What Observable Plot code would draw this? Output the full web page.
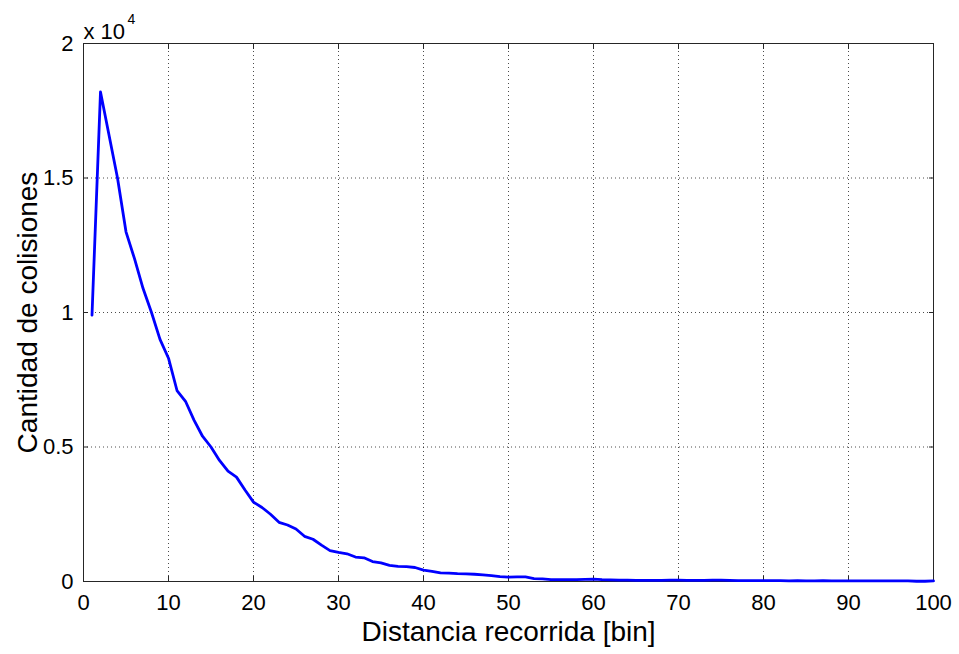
<!DOCTYPE html>
<html><head><meta charset="utf-8">
<script src="https://cdn.jsdelivr.net/npm/d3@7"></script>
<script src="https://cdn.jsdelivr.net/npm/@observablehq/plot@0.6"></script>
<style>body{margin:0;background:#fff}</style>
</head><body><div id="chart"></div>
<script>
const bins = d3.range(1, 101);
const counts = [
  9900, 18200, 16600, 15000, 13000, 12000, 10900, 10000, 9000, 8300,
  7100, 6700, 6000, 5400, 5000, 4500, 4100, 3880, 3400, 2950,
  2750, 2500, 2200, 2100, 1950, 1680, 1570, 1350, 1150, 1080,
  1030, 910, 880, 740, 690, 600, 560, 550, 520, 420,
  380, 320, 310, 290, 280, 270, 250, 220, 180, 160,
  170, 170, 110, 100, 70, 70, 70, 70, 80, 90,
  70, 60, 50, 50, 40, 40, 40, 40, 50, 50,
  40, 40, 40, 50, 50, 40, 30, 30, 30, 30,
  30, 30, 20, 30, 20, 20, 30, 20, 20, 20,
  20, 20, 20, 20, 20, 20, 20, 10, 10, 20
];
const xTicks = [0, 10, 20, 30, 40, 50, 60, 70, 80, 90, 100];
const yTicks = [0, 5000, 10000, 15000, 20000];
const yTickLabels = ["0", "0.5", "1", "1.5", "2"];
const xLabel = "Distancia recorrida [bin]";
const yLabel = "Cantidad de colisiones";
const expBase = "x 10";
const expPower = "4";

const data = bins.map((b, i) => ({bin: b, count: counts[i]}));
const axisColor = "#262626";

const chart = Plot.plot({
  width: 959,
  height: 654,
  marginTop: 43,
  marginRight: 26,
  marginBottom: 73,
  marginLeft: 83,
  style: {fontFamily: "Liberation Sans, Arial, sans-serif", background: "#fff", color: "#000"},
  x: {domain: [0, 100], ticks: xTicks},
  y: {domain: [0, 20000], ticks: yTicks},
  marks: [
    Plot.gridX(xTicks.slice(1, -1), {stroke: "#000", strokeOpacity: 0.7, strokeDasharray: "1,3"}),
    Plot.gridY(yTicks.slice(1, -1), {stroke: "#000", strokeOpacity: 0.7, strokeDasharray: "1,3"}),
    Plot.axisX(xTicks, {anchor: "bottom", tickSize: 0, tickPadding: 13, fontSize: 22, fill: "#000", label: null, tickFormat: d => String(d)}),
    Plot.axisY(yTicks, {anchor: "left", tickSize: 0, tickPadding: 10, fontSize: 22, fill: "#000", label: null, tickFormat: d => yTickLabels[yTicks.indexOf(d)]}),
    Plot.axisX(xTicks, {anchor: "bottom", tickSize: -5, fill: "none", label: null, stroke: axisColor}),
    Plot.axisX(xTicks, {anchor: "top", tickSize: -5, fill: "none", label: null, stroke: axisColor}),
    Plot.axisY(yTicks, {anchor: "left", tickSize: -5, fill: "none", label: null, stroke: axisColor}),
    Plot.axisY(yTicks, {anchor: "right", tickSize: -5, fill: "none", label: null, stroke: axisColor}),
    Plot.frame({stroke: axisColor, strokeWidth: 1}),
    Plot.line(data, {x: "bin", y: "count", stroke: "#0000ff", strokeWidth: 2.8}),
    Plot.text([xLabel], {frameAnchor: "bottom", dy: 51, lineAnchor: "middle", fontSize: 28, fill: "#000", text: d => d}),
    Plot.text([yLabel], {frameAnchor: "left", dx: -55, rotate: -90, textAnchor: "middle", lineAnchor: "middle", fontSize: 28, fill: "#000", text: d => d}),
    Plot.text([expBase], {frameAnchor: "top-left", dx: 0, dy: -5, lineAnchor: "bottom", fontSize: 22, textAnchor: "start", fill: "#000", text: d => d}),
    Plot.text([expPower], {frameAnchor: "top-left", dx: 44, dy: -20, lineAnchor: "bottom", fontSize: 14, textAnchor: "start", fill: "#000", text: d => d})
  ]
});
document.getElementById("chart").append(chart);
</script>
</body></html>
